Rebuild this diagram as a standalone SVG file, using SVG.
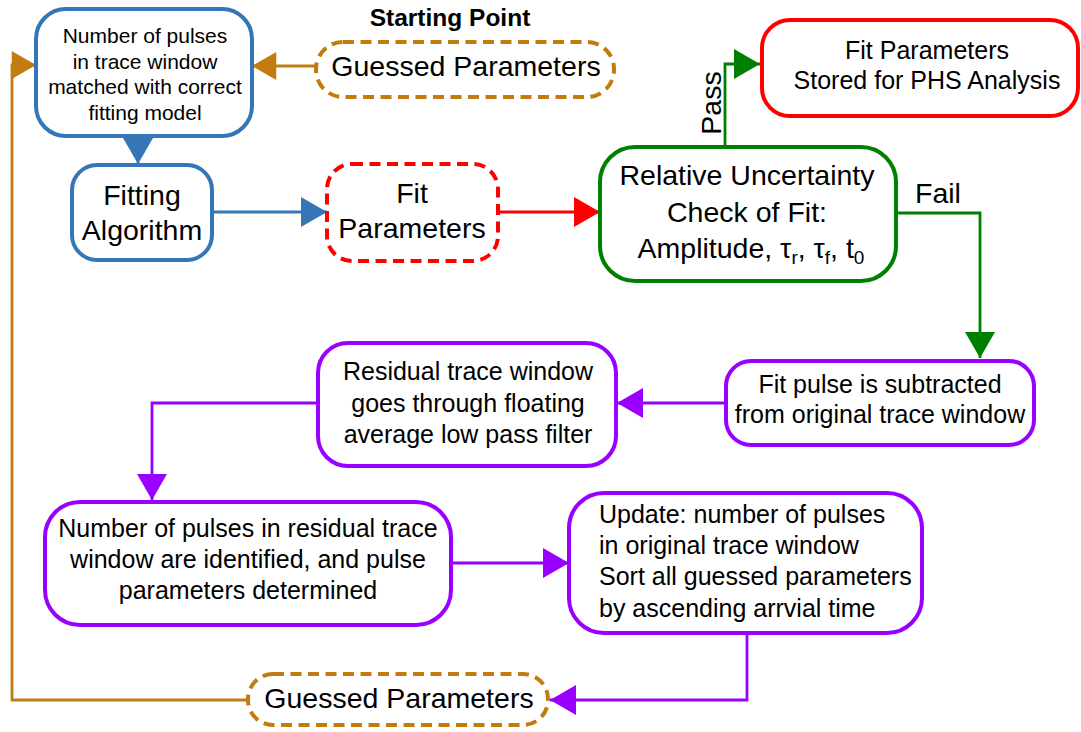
<svg xmlns="http://www.w3.org/2000/svg" width="1081" height="732" viewBox="0 0 1081 732">
<style>
text{font-family:"Liberation Sans",Arial,sans-serif;fill:#000}
.n{fill:#fff;stroke-width:4}
.blue{stroke:#3576b6}.red{stroke:#ff0000}.green{stroke:#008000}.purple{stroke:#9900ff}.orange{stroke:#c27c0e}
.dash{stroke-dasharray:11 6.5}
.c{fill:none;stroke-width:2.8}
.big{font-size:28.5px}.mid{font-size:25px}.sm{font-size:21px}
</style>
<defs>
<marker id="aBlue" viewBox="0 0 26 30" refX="26" refY="15" markerWidth="26" markerHeight="30" markerUnits="userSpaceOnUse" orient="auto"><path d="M0,0L26,15L0,30Z" fill="#3576b6"/></marker>
<marker id="aRed" viewBox="0 0 26 30" refX="26" refY="15" markerWidth="26" markerHeight="30" markerUnits="userSpaceOnUse" orient="auto"><path d="M0,0L26,15L0,30Z" fill="#ff0000"/></marker>
<marker id="aGreen" viewBox="0 0 26 30" refX="26" refY="15" markerWidth="26" markerHeight="30" markerUnits="userSpaceOnUse" orient="auto"><path d="M0,0L26,15L0,30Z" fill="#008000"/></marker>
<marker id="aPurple" viewBox="0 0 26 30" refX="26" refY="15" markerWidth="26" markerHeight="30" markerUnits="userSpaceOnUse" orient="auto"><path d="M0,0L26,15L0,30Z" fill="#9900ff"/></marker>
<marker id="aOrange" viewBox="0 0 26 30" refX="26" refY="15" markerWidth="25" markerHeight="28" markerUnits="userSpaceOnUse" orient="auto"><path d="M0,0L26,15L0,30Z" fill="#c27c0e"/></marker>
</defs>

<g id="connectors">
<path class="c orange" d="M316,66H252" marker-end="url(#aOrange)"/>
<path class="c blue" d="M138,137V164" marker-end="url(#aBlue)"/>
<path class="c blue" d="M212,212H327" marker-end="url(#aBlue)"/>
<path class="c red" d="M498,212H600" marker-end="url(#aRed)"/>
<path class="c green" d="M725,147V64H760" marker-end="url(#aGreen)"/>
<path class="c green" d="M896,213H980V358" marker-end="url(#aGreen)"/>
<path class="c purple" d="M726,403H617" marker-end="url(#aPurple)"/>
<path class="c purple" d="M318,403H152V500" marker-end="url(#aPurple)"/>
<path class="c purple" d="M451,563H569" marker-end="url(#aPurple)"/>
<path class="c purple" d="M747,633V700H550" marker-end="url(#aPurple)"/>
<path class="c orange" d="M248,700H12V65H36" marker-end="url(#aOrange)"/>
<text x="721" y="103" class="big" text-anchor="middle" transform="rotate(-90 721 103)">Pass</text>
<text x="938" y="203" class="big" text-anchor="middle">Fail</text>
</g>

<g id="start-label">
<text x="450" y="26" font-size="24.5" font-weight="bold" text-anchor="middle">Starting Point</text>
</g>

<g id="node-pulses-matched">
<rect class="n blue" x="36" y="9" width="216" height="127" rx="30"/>
<text class="sm" text-anchor="middle"><tspan x="145" y="43">Number of pulses</tspan><tspan x="145" y="68.5">in trace window</tspan><tspan x="145" y="94">matched with correct</tspan><tspan x="145" y="120">fitting model</tspan></text>
</g>

<g id="node-guessed-top">
<rect class="n orange dash" x="316" y="42" width="298" height="55" rx="27"/>
<text class="big" x="466" y="76" text-anchor="middle">Guessed Parameters</text>
</g>

<g id="node-fitting">
<rect class="n blue" x="72" y="165" width="140" height="95" rx="25"/>
<text class="big" text-anchor="middle"><tspan x="142" y="205">Fitting</tspan><tspan x="142" y="240">Algorithm</tspan></text>
</g>

<g id="node-fit-params">
<rect class="n red dash" x="327" y="164" width="171" height="97" rx="25"/>
<text class="big" text-anchor="middle"><tspan x="412" y="203">Fit</tspan><tspan x="412" y="238">Parameters</tspan></text>
</g>

<g id="node-check">
<rect class="n green" x="600" y="147" width="296" height="134" rx="35"/>
<text class="big" text-anchor="middle"><tspan x="747" y="185">Relative Uncertainty</tspan><tspan x="747" y="222">Check of Fit:</tspan></text>
<text class="big" x="751" y="258" text-anchor="middle">Amplitude, τ<tspan font-size="19" dy="6">r</tspan><tspan dy="-6">, τ</tspan><tspan font-size="19" dy="6">f</tspan><tspan dy="-6">, t</tspan><tspan font-size="19" dy="6">0</tspan></text>
</g>

<g id="node-stored">
<rect class="n red" x="762" y="20" width="316" height="96" rx="28"/>
<text class="mid" text-anchor="middle"><tspan x="927" y="59">Fit Parameters</tspan><tspan x="927" y="89">Stored for PHS Analysis</tspan></text>
</g>

<g id="node-subtract">
<rect class="n purple" x="726" y="361" width="308" height="84" rx="25"/>
<text class="mid" text-anchor="middle"><tspan x="880" y="393">Fit pulse is subtracted</tspan><tspan x="880" y="423">from original trace window</tspan></text>
</g>

<g id="node-residual">
<rect class="n purple" x="318" y="343" width="298" height="123" rx="30"/>
<text class="mid" text-anchor="middle"><tspan x="468" y="380">Residual trace window</tspan><tspan x="468" y="411.5">goes through floating</tspan><tspan x="468" y="443">average low pass filter</tspan></text>
</g>

<g id="node-identify">
<rect class="n purple" x="45" y="502" width="406" height="123" rx="35"/>
<text class="mid" text-anchor="middle"><tspan x="248" y="537">Number of pulses in residual trace</tspan><tspan x="248" y="568">window are identified, and pulse</tspan><tspan x="248" y="599">parameters determined</tspan></text>
</g>

<g id="node-update">
<rect class="n purple" x="569" y="493" width="353" height="140" rx="35"/>
<text class="mid"><tspan x="599" y="523">Update: number of pulses</tspan><tspan x="599" y="554">in original trace window</tspan><tspan x="599" y="585">Sort all guessed parameters</tspan><tspan x="599" y="616.5">by ascending arrvial time</tspan></text>
</g>

<g id="node-guessed-bottom">
<rect class="n orange dash" x="248" y="674" width="300" height="51" rx="25"/>
<text class="big" x="399" y="708" text-anchor="middle">Guessed Parameters</text>
</g>
</svg>
